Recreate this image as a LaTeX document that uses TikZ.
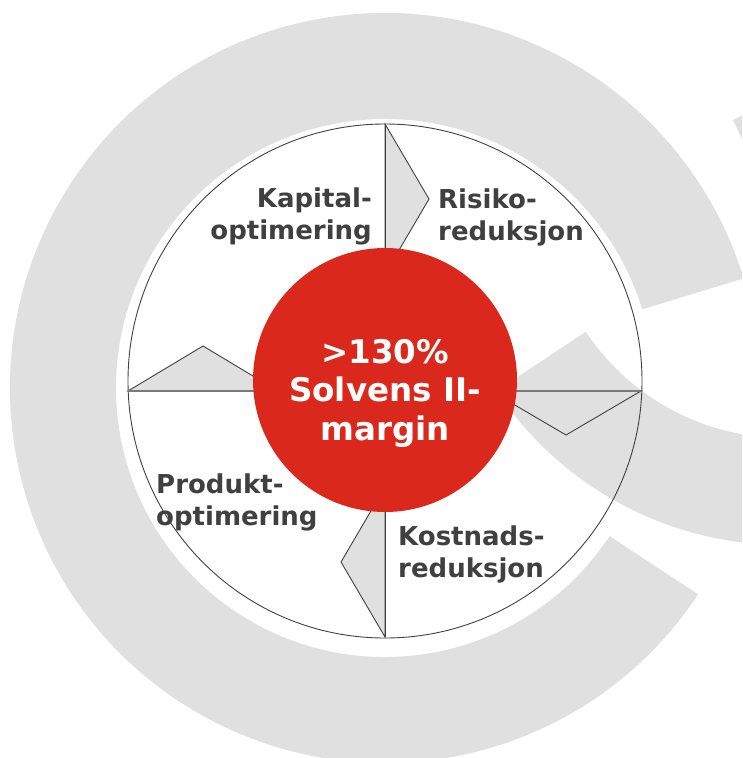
\documentclass[tikz,border=0pt]{standalone}
\usepackage{fontspec}
\setmainfont{DejaVu Sans}
\definecolor{ringgrey}{HTML}{E0E0E0}
\definecolor{solvred}{HTML}{DA291C}
\definecolor{inkgrey}{HTML}{404040}
% one grey blade of the pinwheel: base end, tip, inner end
\newcommand{\blade}[3]{\filldraw[blade] (#1) -- (#2) -- (#3) -- cycle;}

\begin{document}
\begin{tikzpicture}[x=1pt,y=-1pt,
  blade/.style={fill=ringgrey,draw=inkgrey,line width=0.9pt},
  divider/.style={draw=inkgrey,line width=0.9pt},
  seglabel/.style={font=\fontsize{26}{32}\selectfont\bfseries,text=inkgrey,inner sep=0pt}]
\clip (0,0) rectangle (742,758);
% background arcs
\fill[ringgrey,shift={(385,388)}] (-17:375) arc[start angle=-17,end angle=-326.6,radius=375]
  -- (-326.6:269) arc[start angle=-326.6,end angle=-17,radius=269] -- cycle;
\fill[ringgrey,shift={(784,200)}] (146.4:238) arc[start angle=146.4,end angle=80,radius=238]
  -- (80:345) arc[start angle=80,end angle=146.4,radius=345] -- cycle;
\fill[ringgrey] (733,120) -- (745,114) -- (745,145) -- cycle;
% wheel
\coordinate (top) at (385,124);
\coordinate (bot) at (385,637);
\coordinate (lft) at (128,391);
\coordinate (rgt) at (641,391);
\draw[inkgrey,line width=0.9pt] (385,381) circle[radius=257];
\coordinate (toptip) at (429,199);
\coordinate (topend) at (385,274);
\coordinate (rgttip) at (566,435);
\coordinate (rgtend) at (491,391);
\coordinate (bottip) at (341,562);
\coordinate (botend) at (385,487);
\coordinate (lfttip) at (203,346);
\coordinate (lftend) at (278,391);
\blade{top}{toptip}{topend}
\blade{rgt}{rgttip}{rgtend}
\blade{bot}{bottip}{botend}
\blade{lft}{lfttip}{lftend}
\draw[divider] (top) -- (bot);
\draw[divider,draw=inkgrey!70,line width=1.4pt] (lft) -- (rgt);
\node[circle,fill=solvred,minimum size=264pt,inner sep=0pt] (core) at (385,380) {};
\node[font=\fontsize{32.5}{38.5}\selectfont\bfseries,text=white,align=center,anchor=base,inner sep=0pt]
  (margin) at (385,440) {>130\%\\Solvens II-\\margin};
% segment labels (base = last line)
\node[seglabel,align=right,anchor=base east] (kapital) at (372,239) {Kapital-\\optimering};
\node[seglabel,align=left,anchor=base west] (risiko) at (438,240) {Risiko-\\reduksjon};
\node[seglabel,align=left,anchor=base west] (kostnad) at (398,577) {Kostnads-\\reduksjon};
\node[seglabel,align=left,anchor=base west] (produkt) at (156,525) {Produkt-\\optimering};
\end{tikzpicture}
\end{document}
